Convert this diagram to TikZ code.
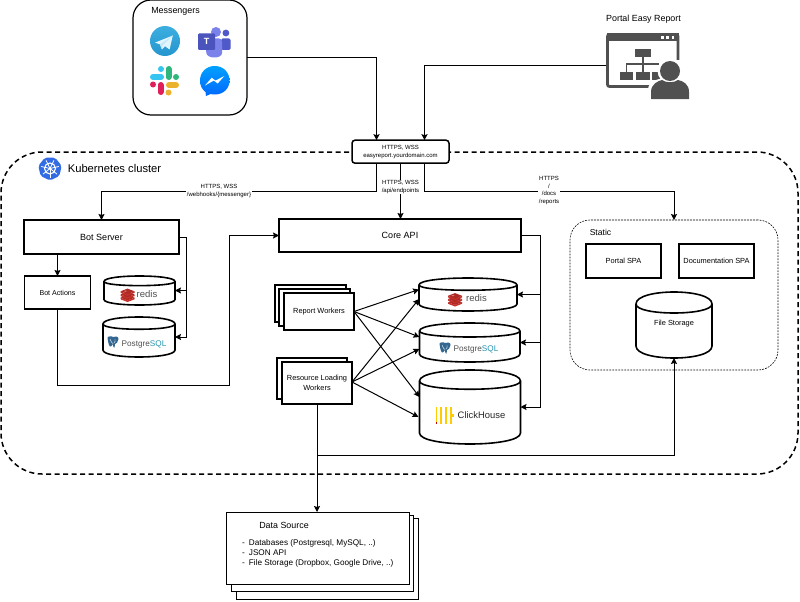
\documentclass[tikz,border=0pt]{standalone}
\usepackage{fontspec}
\setmainfont{Liberation Sans}
\usetikzlibrary{arrows.meta}
\definecolor{iconGray}{HTML}{505050}
\definecolor{pgBlue}{HTML}{336791}
\definecolor{rdRed}{HTML}{C6302B}
\definecolor{teamA}{HTML}{7B83EB}
\definecolor{teamB}{HTML}{5059C9}
\definecolor{teamC}{HTML}{4B53BC}
\definecolor{k8sBlue}{HTML}{326CE5}
\definecolor{tgTop}{HTML}{3CAEE0}
\definecolor{tgBot}{HTML}{2596CE}
\definecolor{slBlue}{HTML}{36C5F0}
\definecolor{slGreen}{HTML}{2EB67D}
\definecolor{slRed}{HTML}{E01E5A}
\definecolor{slYellow}{HTML}{ECB22E}
\definecolor{fbTop}{HTML}{00A0FF}
\definecolor{fbBot}{HTML}{0069FF}
\definecolor{chYellow}{HTML}{FFCC01}
\tikzset{
  conn/.style={line width=1pt,draw=black,-{Stealth[inset=1pt,length=6pt,width=6pt]}},
  plainconn/.style={line width=1pt,draw=black},
  mbox/.style={draw=black,line width=1.8pt,fill=white,outer sep=0pt,inner sep=1pt,align=center,font=\fontsize{9}{11}\selectfont},
  sbox/.style={draw=black,line width=1.5pt,fill=white,outer sep=0pt,inner sep=1pt,align=center,font=\fontsize{7.4}{10.5}\selectfont},
  dbox/.style={draw=black,line width=1pt,fill=white,outer sep=0pt},
  cyl/.style={outer sep=0pt,inner sep=0pt,align=center},
  edgelbl/.style={fill=white,inner sep=1pt,align=center,font=\fontsize{6}{7.4}\selectfont},
  txt/.style={inner sep=0pt,font=\fontsize{8.9}{10}\selectfont},
  cylline/.style={draw=black,line width=1.6pt},
}
\newcommand{\cylsh}[2]{%
  \draw[cylline] ([yshift=-#2]#1.north west)
    .. controls ([yshift=#2/3]#1.north west) and ([yshift=#2/3]#1.north east) .. ([yshift=-#2]#1.north east)
    -- ([yshift=#2]#1.south east)
    .. controls ([yshift=-#2/3]#1.south east) and ([yshift=-#2/3]#1.south west) .. ([yshift=#2]#1.south west)
    -- cycle;
  \draw[cylline] ([yshift=-#2]#1.north west)
    .. controls ([yshift=-2*#2]#1.north west) and ([yshift=-2*#2]#1.north east) .. ([yshift=-#2]#1.north east);
}
\newcommand{\redislogo}[2]{%
  \begin{scope}[shift={(#1,#2)}]
    \foreach \yy in {3.2,0,-3.2}{
      \fill[rdRed] (-7,\yy) -- (0,\yy+2.7) -- (7,\yy) -- (7,\yy+1.6) -- (0,\yy+4.3) -- (-7,\yy+1.6) -- cycle;
      \fill[rdRed!88!black] (-7,\yy) -- (0,\yy+2.7) -- (7,\yy) -- (0,\yy-2.7) -- cycle;
    }
    \fill[rdRed!60!white] (-2,-3.4) ellipse (1.6 and .6);
  \end{scope}}
\newcommand{\pglogo}[2]{%
  \begin{scope}[shift={(#1,#2)}]
    \fill[pgBlue] (-5.5,-4) .. controls (-6,-6) and (-1,-6) .. (0,-5) .. controls (2,-6) and (5.5,-6) .. (5.5,-3)
      .. controls (5.5,0) and (3,2) .. (2,2) -- (1.5,5.5) .. controls (0.5,6) and (0,5) .. (0,2)
      .. controls (-1,3.5) and (-2,5) .. (-3,4.5) .. controls (-4.5,3) and (-5,-1) .. (-5.5,-4) -- cycle;
    \draw[white,line width=.4pt] (-3,-3) .. controls (-2,0) and (-1,1) .. (0,1.5) (2,-3) .. controls (2.5,-1) and (2,0) .. (1,1);
  \end{scope}}
\begin{document}
\begin{tikzpicture}[x=1pt,y=-1pt]
\useasboundingbox (0,0) rectangle (800,602);
\fill[white] (0,0) rectangle (800,602);

% Kubernetes cluster
\node[draw=black,line width=1.5pt,dash pattern=on 5pt off 3.5pt,rounded corners=41pt,minimum width=797,minimum height=322,outer sep=0pt] (k8s) at (399.5,313) {};
\node[txt,font=\fontsize{11.2}{13}\selectfont] (k8stext) at (114.5,168.5) {Kubernetes cluster};
\begin{scope}[shift={(50,168.5)}]
  \fill[k8sBlue,rounded corners=2pt] (90:12) -- (141.4:12) -- (192.8:12) -- (244.3:12) -- (295.7:12) -- (347.1:12) -- (38.6:12) -- cycle;
  \draw[white,line width=1.1pt] (0,0) circle (5.5);
  \foreach \a in {90,141.4,192.8,244.3,295.7,347.1,38.6} \draw[white,line width=.8pt] (0,0) -- (\a:9);
  \fill[white] (0,0) circle (1.4);
\end{scope}

% Messengers
\node[draw=black,line width=1.2pt,rounded corners=18pt,fill=white,minimum width=114,minimum height=115,outer sep=0pt] (msg) at (190,57.5) {};
\node[txt] (msgtext) at (175.5,11) {Messengers};
% telegram
\shade[top color=tgTop,bottom color=tgBot] (165,41) circle (15);
\fill[white!88!cyan] (172.8,35.5) -- (155,42.6) -- (160,44.4) -- (162,49.5) -- (165,46.2) -- (169.6,49.5) -- cycle;
\fill[white!70!tgTop] (172.8,35.5) -- (160,44.4) -- (162,49.5) -- (162.6,45.2) -- cycle;
% teams
\fill[teamB,rounded corners=1.5pt] (221,38.5) rectangle (230.5,50);
\fill[teamB] (225.9,33) circle (3.4);
\fill[teamA] (216,32) circle (5);
\fill[teamA,rounded corners=3pt] (206,38.5) -- (222,38.5) -- (222,50) .. controls (222,59) and (207,59) .. (206,50) -- cycle;
\fill[teamC,rounded corners=1pt] (198,33.5) rectangle (215,50);
\node[inner sep=0pt,text=white,font=\bfseries\fontsize{9}{10}\selectfont] (teamst) at (206.5,41.7) {T};
% slack
\draw[line width=6pt,line cap=round,draw=slBlue] (153,77) -- (161,77);
\fill[slBlue] (161,69) circle (3);
\draw[line width=6pt,line cap=round,draw=slGreen] (168.5,69) -- (168.5,77);
\fill[slGreen] (176,77) circle (3);
\draw[line width=6pt,line cap=round,draw=slRed] (160.5,85) -- (160.5,92);
\fill[slRed] (153,84.5) circle (3);
\draw[line width=6pt,line cap=round,draw=slYellow] (169,85) -- (176,85);
\fill[slYellow] (168.5,92.5) circle (3);
% messenger
\shade[top color=fbTop,bottom color=fbBot]
  (214.7,66) .. controls (223,66) and (229.5,72) .. (229.5,80.5) .. controls (229.5,89) and (223,94.5) .. (214.7,94.5)
  .. controls (213,94.5) and (211.5,94.3) .. (210.5,94) -- (206,96) -- (205.5,92) .. controls (202,89.5) and (200,85.5) .. (200,80.5)
  .. controls (200,72) and (206.5,66) .. (214.7,66) -- cycle;
\fill[white] (205,85.5) -- (211.7,77.7) -- (215.5,80.6) -- (224.3,76) -- (217.7,83.5) -- (213.8,80.6) -- cycle;

% Portal Easy Report
\node[txt] (portaltext) at (643.5,19) {Portal Easy Report};
\node[inner sep=0pt,outer sep=0pt,minimum width=73,minimum height=55] (portal) at (642.5,66) {};
\draw[iconGray,line width=2.8pt,rounded corners=2pt] (678,60) -- (678,34.5) -- (607.5,34.5) -- (607.5,86.5) -- (650,86.5);
\fill[iconGray] (606.5,33.5) rectangle (679,41);
\foreach \xx in {662.5,667.5,673} \fill[white] (\xx-1.4,36.2) rectangle (\xx+1.4,39.2);
\fill[iconGray] (635,49) rectangle (651,57);
\draw[iconGray,line width=1.2pt] (643,57) -- (643,64) (626.5,72) -- (626.5,64) -- (659,64) (643,64) -- (643,72);
\fill[iconGray] (620,72) rectangle (633,80);
\fill[iconGray] (636,72) rectangle (650,80);
\fill[iconGray] (652,72) rectangle (660,80);
\fill[white] (670,71) circle (12.5);
\fill[white] (648,100) -- (648,90) .. controls (648,80) and (660,78) .. (670,78) .. controls (680,78) and (692,80) .. (692,90) -- (692,100) -- cycle;
\fill[iconGray] (670,71) circle (10);
\fill[iconGray] (651,99) -- (651,92) .. controls (651,84) and (658,81) .. (662,80) .. controls (666,83) and (674,83) .. (678,80) .. controls (683,81) and (689,84) .. (689,92) -- (689,99) -- cycle;

% Gateway
\node[draw=black,line width=1.5pt,rounded corners=3pt,fill=white,minimum width=97,minimum height=23,inner sep=0pt,outer sep=0pt,align=center,font=\fontsize{6}{8}\selectfont] (gw) at (400.5,151.7) {HTTPS, WSS\\easyreport.yourdomain.com};

% Bot side
\node[mbox,minimum width=155,minimum height=34] (bot) at (101.5,237) {Bot Server};
\node[sbox,minimum width=66,minimum height=33,font=\fontsize{7.1}{9}\selectfont] (botact) at (57.5,292.5) {Bot Actions};
\node[cyl,minimum width=71,minimum height=29] (bredis) at (139.5,290.5) {};
\node[cyl,minimum width=72,minimum height=40] (bpg) at (139,337) {};
\cylsh{bredis}{5.5}
\cylsh{bpg}{7}
\redislogo{127.5}{294.5}
\node[inner sep=0pt,text=iconGray,font=\fontsize{9.5}{10}\selectfont] (bredist) at (147,294) {redis};
\pglogo{113}{342}
\node[inner sep=0pt,font=\fontsize{8.2}{10}\selectfont] (bpgt) at (144,344) {\textcolor{iconGray}{Postgre}\textcolor{pgBlue!70!cyan}{SQL}};

% Core
\node[mbox,minimum width=242,minimum height=33] (core) at (400,235.5) {Core API};

% Workers
\node[dbox,line width=1.2pt,minimum width=71,minimum height=37] (rw3) at (310.5,303.5) {};
\node[dbox,line width=1.2pt,minimum width=71,minimum height=37] (rw2) at (314.5,307.5) {};
\node[sbox,minimum width=70,minimum height=37] (rw1) at (319,311.5) {Report Workers};
\node[dbox,line width=1.2pt,minimum width=70,minimum height=41] (lw2) at (312,378.5) {};
\node[sbox,minimum width=70,minimum height=42,inner sep=0pt] (lw1) at (317,383) {Resource Loading\\Workers};

% DBs
\node[cyl,minimum width=98,minimum height=33] (mredis) at (468,294.5) {};
\node[cyl,minimum width=100.5,minimum height=39] (mpg) at (469.7,342.5) {};
\node[cyl,minimum width=101,minimum height=74] (ch) at (470,407) {};
\cylsh{mredis}{7}
\cylsh{mpg}{8}
\cylsh{ch}{11}
\redislogo{455}{299}
\node[inner sep=0pt,text=iconGray,font=\fontsize{9.5}{10}\selectfont] (mredist) at (476.5,298.5) {redis};
\pglogo{445}{348}
\node[inner sep=0pt,font=\fontsize{8.2}{10}\selectfont] (mpgt) at (476,349.5) {\textcolor{iconGray}{Postgre}\textcolor{pgBlue!70!cyan}{SQL}};
\foreach \xx in {436.6,441.3,446,450.7} \fill[chYellow] (\xx-.85,407) rectangle (\xx+.85,424);
\fill[red!80!black] (435.75,422) rectangle (437.45,424);
\fill[chYellow] (452.3,414) rectangle (454.1,416.8);
\node[inner sep=0pt,text=black!85,font=\fontsize{9.4}{10}\selectfont] (cht) at (481.5,415) {ClickHouse};

% Static
\node[draw=black,line width=.6pt,dash pattern=on 1.8pt off 1.2pt,rounded corners=20pt,minimum width=208,minimum height=150,outer sep=0pt] (static) at (674,295) {};
\node[txt,font=\fontsize{8.6}{10}\selectfont] (statict) at (600.5,232) {Static};
\node[mbox,minimum width=75,minimum height=34,font=\fontsize{7.4}{9}\selectfont] (pspa) at (623.5,261) {Portal SPA};
\node[mbox,minimum width=75,minimum height=34,font=\fontsize{7.4}{9}\selectfont] (dspa) at (716.5,261) {Documentation SPA};
\node[cyl,minimum width=76,minimum height=66] (fs) at (674,325) {};
\cylsh{fs}{12}
\node[inner sep=0pt,font=\fontsize{7.4}{9}\selectfont] (fst) at (674,324) {File Storage};

% Data source
\node[dbox,minimum width=182,minimum height=81] (ds3) at (327,558.5) {};
\node[dbox,minimum width=182.5,minimum height=76] (ds2) at (322.25,553) {};
\node[dbox,minimum width=183,minimum height=72] (ds1) at (317.5,548) {};
\node[txt] (dstitle) at (284,525) {Data Source};
\node[inner sep=0pt,anchor=north west,align=left,font=\fontsize{8.2}{10}\selectfont] (dslist) at (242,539) {-\hspace{4pt}Databases (Postgresql, MySQL, ..)\\-\hspace{4pt}JSON API\\-\hspace{4pt}File Storage (Dropbox, Google Drive, ..)};

% Connectors
\coordinate (botdrop) at (101.5,191.5);
\coordinate (statdrop) at (674,191.5);
\coordinate (botjoin) at (186,291);
\coordinate (busact) at (229,385);
\coordinate (corebus) at (540.5,407);
\coordinate (lwout) at (352,382);
\coordinate (fsjoin) at (317,455);
\draw[conn] (msg.east) -| ([xshift=-24pt]gw.north);
\draw[conn] (portal.west) -| ([xshift=24pt]gw.north);
\draw[conn] ([xshift=-24pt]gw.south) |- (botdrop) -- (bot.north);
\draw[conn] (gw.south) -- (gw.south |- core.north);
\draw[conn] ([xshift=24pt]gw.south) |- (statdrop) -- (static.north);
\node[edgelbl] (lb1) at (219,191) {HTTPS, WSS\\/webhooks/\{messenger\}};
\node[edgelbl] (lb2) at (400.5,187) {HTTPS, WSS\\/api/endpoints};
\node[edgelbl] (lb3) at (549,190.5) {HTTPS\\/\\/docs\\/reports};

\draw[conn] (botact.north |- bot.south) -- (botact.north);
\draw[conn] (bot.east) -- ++(7,0) |- (bredis.east);
\draw[conn] (botjoin) |- (bpg.east);
\draw[conn] (botact.south) |- (busact) |- (core.west);

\draw[plainconn] (core.east) -| (corebus);
\draw[conn] (mredis.east -| corebus) -- (mredis.east);
\draw[conn] (mpg.east -| corebus) -- (mpg.east);
\draw[conn] (corebus) -- (ch.east);

\draw[conn] (rw1.east) -- ([yshift=5]mredis.west);
\draw[conn] (rw1.east) -- ([yshift=5.5]mpg.west);
\draw[conn] (rw1.east) -- ([yshift=10]ch.west);
\draw[conn] (lwout) -- ([yshift=-4.5]mredis.west);
\draw[conn] (lwout) -- ([yshift=-6.5]mpg.west);
\draw[conn] (lwout) -- ([yshift=-10,xshift=-1]ch.west);

\draw[conn] (lw1.south) -- (ds1.north -| lw1.south);
\draw[conn] (fsjoin) -| (fs.south);
\end{tikzpicture}
\end{document}
